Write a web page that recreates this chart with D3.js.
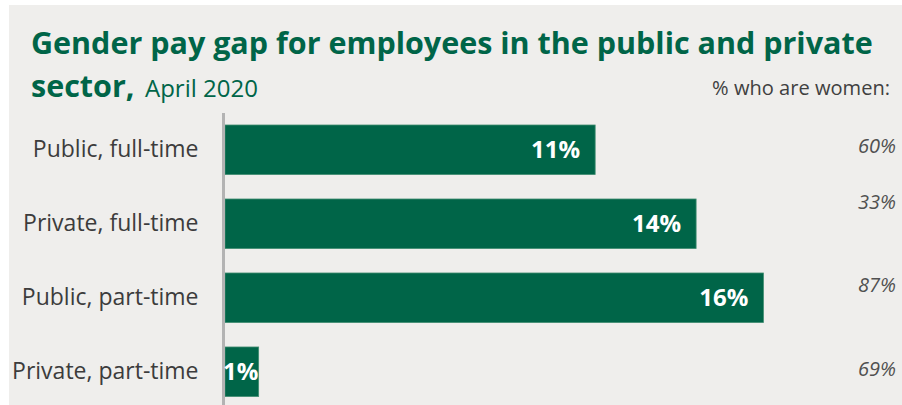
<!DOCTYPE html>
<html>
<head>
<meta charset="utf-8">
<script src="https://cdn.jsdelivr.net/npm/d3@7"></script>
<style>
  html, body { margin: 0; padding: 0; background: #ffffff; }
  svg { display: block; }
</style>
</head>
<body>
<svg id="chart" width="902" height="405"></svg>
<script>
// Gender pay gap by sector and working pattern, April 2020
const categories = ["Public, full-time", "Private, full-time", "Public, part-time", "Private, part-time"];
const payGap = [11, 14, 16, 1];            // gender pay gap, %
const shareWomen = [60, 33, 87, 69];       // % of employees who are women
const titleLine1 = "Gender pay gap for employees in the public and private";
const titleLine2Bold = "sector,";
const titleLine2 = "April 2020";
const sideHeader = "% who are women:";

const W = 902, H = 405;
const green = "#006548";
const font = "'Open Sans', sans-serif";
const svg = d3.select("#chart");

// panel background with a thin white margin on the top and left
svg.append("rect").attr("x", 9).attr("y", 5).attr("width", W - 9).attr("height", H - 5).attr("fill", "#efeeec");

// size a text element so that it spans the given width
function fitWidth(sel, width) {
  const fs = +sel.attr("font-size");
  const len = sel.node().getComputedTextLength();
  sel.attr("font-size", fs * width / len);
}

// title
const title = svg.append("text").attr("x", 31).attr("y", 54)
  .attr("font-family", font).attr("font-weight", 700)
  .attr("font-size", 30).attr("fill", green).text(titleLine1);
fitWidth(title, 842);
const titleSize = +title.attr("font-size");

const t2a = svg.append("text").attr("x", 31).attr("y", 97)
  .attr("font-family", font).attr("font-weight", 700).attr("font-size", titleSize)
  .attr("fill", green).text(titleLine2Bold);
const t2b = svg.append("text").attr("x", 145).attr("y", 97)
  .attr("font-family", font).attr("font-weight", 400).attr("font-size", 22)
  .attr("fill", green).text(titleLine2);
fitWidth(t2b, 113);

const header = svg.append("text").attr("x", 890).attr("y", 95).attr("text-anchor", "end")
  .attr("font-family", font).attr("font-size", 19).attr("fill", "#404040")
  .text(sideHeader);
fitWidth(header, 178);

// scales
const x0 = 225;
const x = d3.scaleLinear().domain([0, 16]).range([x0, x0 + 16 * 33.65]);
const y = d3.scaleBand().domain(categories).range([112.8, 408.7]).paddingInner(0.331).paddingOuter(0.165);

// bars
svg.append("g").selectAll("rect").data(categories).join("rect")
  .attr("x", x(0)).attr("y", d => y(d))
  .attr("width", (d, i) => x(payGap[i]) - x(0)).attr("height", y.bandwidth())
  .attr("fill", green).attr("stroke", "#3f8c70").attr("stroke-width", 0.8);

// category axis
const axis = d3.axisLeft(y).tickSize(0).tickPadding(25);
const gAxis = svg.append("g").attr("transform", `translate(${x0 - 1.5},0)`).call(axis);
gAxis.select(".domain").remove();
gAxis.selectAll("text").attr("font-family", font).attr("font-size", 23)
  .attr("fill", "#3c3c3c");
svg.append("line").attr("x1", x0 - 1.5).attr("x2", x0 - 1.5).attr("y1", 113).attr("y2", H)
  .attr("stroke", "#b3b3b3").attr("stroke-width", 3);

// value labels inside the bar ends
svg.append("g").selectAll("text").data(categories).join("text")
  .attr("y", d => y(d) + y.bandwidth() / 2)
  .attr("dy", "0.36em").attr("text-anchor", "end")
  .attr("font-family", font).attr("font-weight", 700).attr("font-size", 24)
  .attr("fill", "#ffffff")
  .text((d, i) => payGap[i] + "%")
  .attr("x", function (d, i) {
    const len = this.getComputedTextLength();
    return Math.max(x(payGap[i]) - 15, x0 - 2 + len);
  });

// share of women, right column
const sideOffset = [-4, -22, -13, -3];
svg.append("g").selectAll("text").data(categories).join("text")
  .attr("x", 896).attr("y", (d, i) => y(d) + y.bandwidth() / 2 + sideOffset[i])
  .attr("dy", "0.36em").attr("text-anchor", "end")
  .attr("font-family", font).attr("font-style", "italic").attr("font-size", 20)
  .attr("fill", "#505050")
  .text((d, i) => shareWomen[i] + "%");
</script>
</body>
</html>
